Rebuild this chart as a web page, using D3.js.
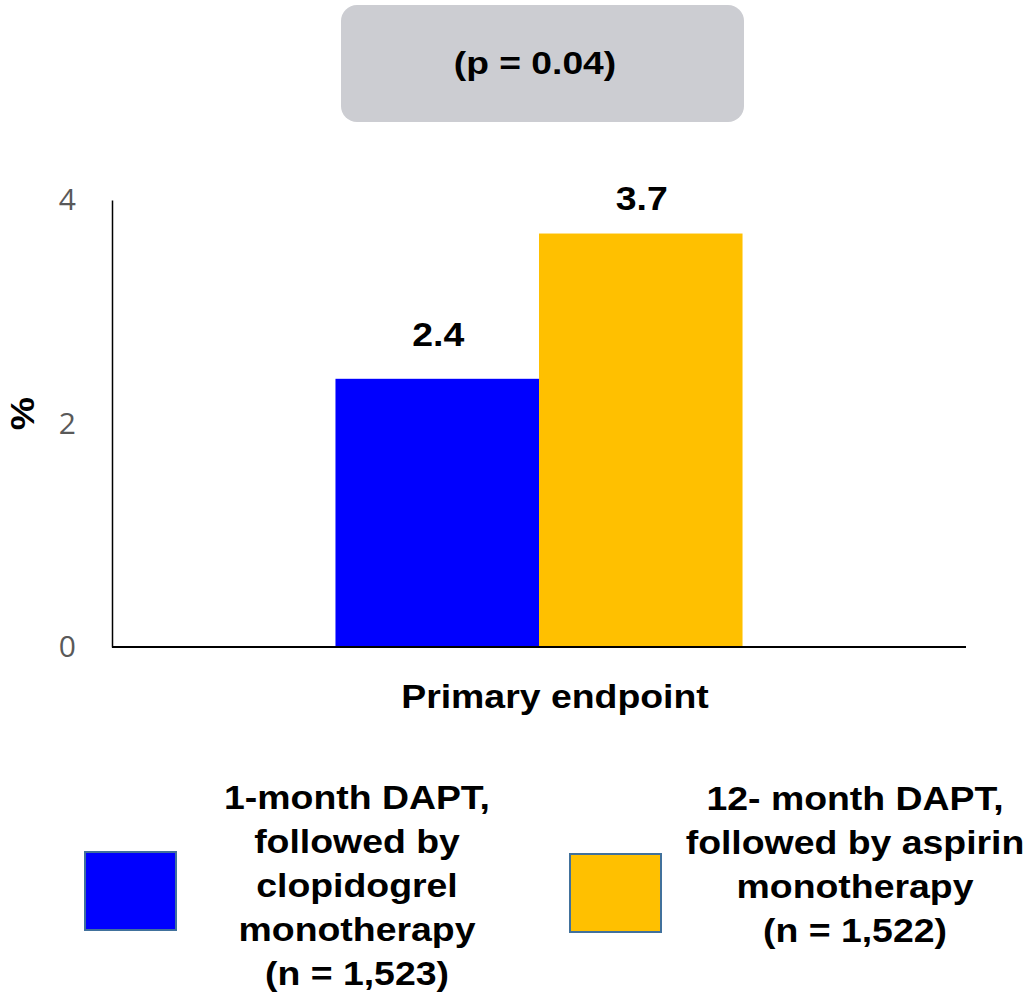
<!DOCTYPE html>
<html>
<head>
<meta charset="utf-8">
<script src="https://cdn.jsdelivr.net/npm/d3@7"></script>
<style>
  body { margin: 0; background: white; }
  text { font-family: "Liberation Sans", Arial, sans-serif; }
</style>
</head>
<body>
<div id="chart"></div>
<script>
const width = 1028
const height = 994

// data
const categories = ["Primary endpoint"];
const seriesNames = ["1-month DAPT", "12-month DAPT"];
const seriesValues = [2.4, 3.7];
const seriesColors = ["#0000FF", "#FFC000"];
const yTicks = [0, 2, 4];
const legendLabels = [
  ["1-month DAPT,", "followed by", "clopidogrel", "monotherapy", "(n = 1,523)"],
  ["12- month DAPT,", "followed by aspirin", "monotherapy", "(n = 1,522)"]
];
const pLabel = "(p = 0.04)";

const labelGap = [33, 24];   // space between bar top and its label
const stretch = 1.1;         // the bold text in the picture is a bit wider than Arial

const svg = d3.select("#chart")
  .append("svg")
  .attr("width", width)
  .attr("height", height)

// bold text, a little stretched sideways
function boldText(x, y, str, size, sx) {
  return svg.append("text")
    .attr("transform", `translate(${x},${y}) scale(${sx || stretch},1)`)
    .attr("text-anchor", "middle")
    .attr("font-size", size)
    .attr("font-weight", "bold")
    .attr("fill", "#000")
    .text(str);
}

const plot = {left: 112, right: 966, top: 200, bottom: 647};

const y = d3.scaleLinear()
  .domain([0, 4])
  .range([plot.bottom, plot.top]);

const x0 = d3.scaleBand()
  .domain(categories)
  .range([plot.left, plot.right])
  .paddingInner(0)
  .paddingOuter(0.549);

const x1 = d3.scaleBand()
  .domain(seriesNames)
  .range([0, x0.bandwidth()]);

// p value box
svg.append("rect")
  .attr("x", 341)
  .attr("y", 5)
  .attr("width", 403)
  .attr("height", 117)
  .attr("rx", 16)
  .attr("ry", 16)
  .attr("fill", "#CCCDD2");

boldText(535, 74, pLabel, 31, 1.2);

// bars
svg.append("g")
  .selectAll("rect")
  .data(seriesValues)
  .enter()
  .append("rect")
  .attr("x", (d, i) => x0(categories[0]) + x1(seriesNames[i]))
  .attr("y", d => y(d))
  .attr("width", x1.bandwidth())
  .attr("height", d => y(0) - y(d))
  .attr("fill", (d, i) => seriesColors[i]);

seriesValues.forEach((d, i) => {
  const cx = x0(categories[0]) + x1(seriesNames[i]) + x1.bandwidth() / 2;
  boldText(cx + 1, y(d) - labelGap[i], d.toFixed(1), 34);
});

// axes
const yAxis = svg.append("g")
  .attr("transform", `translate(${plot.left},0)`)
  .call(d3.axisLeft(y).tickValues(yTicks).tickFormat(d3.format("d")).tickSize(0).tickPadding(36));
yAxis.select(".domain").attr("stroke", "#000").attr("stroke-width", 1.5);
yAxis.selectAll("text")
  .attr("font-size", 30)
  .attr("fill", "#595959")
  .style("font-family", "'Open Sans', sans-serif");

svg.append("line")
  .attr("x1", plot.left)
  .attr("x2", plot.right)
  .attr("y1", y(0))
  .attr("y2", y(0))
  .attr("stroke", "#000")
  .attr("stroke-width", 2);

svg.append("text")
  .attr("transform", `translate(34,${y(2) - 10}) rotate(-90) scale(${stretch},1)`)
  .attr("text-anchor", "middle")
  .attr("font-size", 34)
  .attr("font-weight", "bold")
  .text("%");

boldText(x0(categories[0]) + x0.bandwidth() / 2 + 16, 708, categories[0], 34);

// legend
const legendPos = [
  {sx: 85, sy: 852, tx: 357, ty: 809},
  {sx: 570, sy: 854, tx: 855, ty: 810}
];

legendLabels.forEach((lines, i) => {
  const p = legendPos[i];
  svg.append("rect")
    .attr("x", p.sx)
    .attr("y", p.sy)
    .attr("width", 91)
    .attr("height", 78)
    .attr("fill", seriesColors[i])
    .attr("stroke", "#41719C")
    .attr("stroke-width", 2);
  lines.forEach((line, j) => {
    boldText(p.tx, p.ty + j * 44, line, 34);
  });
});
</script>
</body>
</html>
